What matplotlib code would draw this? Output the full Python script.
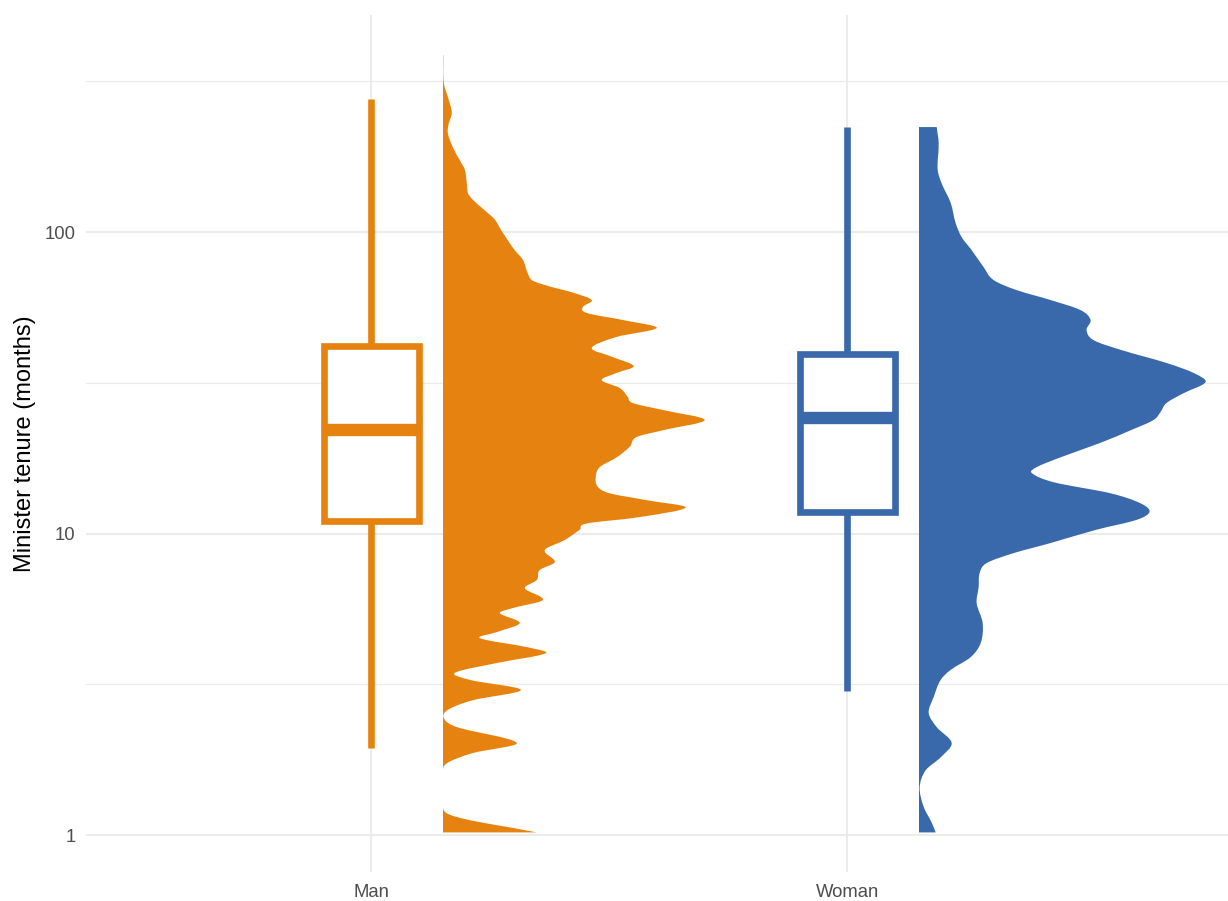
import numpy as np
import matplotlib
matplotlib.use("Agg")
import matplotlib.pyplot as plt
from matplotlib.path import Path
from matplotlib.patches import PathPatch, Rectangle
from matplotlib.ticker import FixedLocator, NullFormatter

plt.rcParams["font.family"] = ["Liberation Sans", "DejaVu Sans"]

# ---- data -------------------------------------------------------------
groups = ["Man", "Woman"]
group_colors = ["#E68310", "#3A69AB"]

# box-plot summaries (months)
whisker_low = [1.95, 3.0]
q1 = [11.0, 11.8]
median = [22.0, 24.2]
q3 = [42.0, 39.4]
whisker_high = [276.0, 223.0]

# density profiles: tenure (months) and density height
man_months = [1.02, 1.06, 1.12, 1.18, 1.28, 1.61, 1.73, 1.87, 2.02, 2.28,
              2.44, 2.60, 2.80, 3.03, 3.27, 3.45, 3.72, 4.01, 4.20, 4.50,
              4.71, 5.05, 5.45, 5.66, 6.02, 6.59, 7.01, 7.57, 8.04, 8.81,
              9.52, 10.3, 10.8, 11.3, 12.2, 12.9, 13.6, 14.3, 15.4, 16.6,
              17.9, 19.4, 20.9, 22.0, 23.8, 25.7, 27.1, 28.4, 30.4, 32.3,
              34.1, 35.9, 38.5, 41.2, 44.9, 48.1, 51.1, 53.9, 56.4, 59.5,
              63.0, 66.0, 69.0, 73.0, 81.0, 87.0, 94.0, 102, 110, 118,
              128, 135, 145, 161, 173, 191, 213, 230, 248, 274, 312, 386]
man_density = [0.94, 0.67, 0.27, 0.04, 0.00, 0.00, 0.04, 0.30, 0.74, 0.14,
               0.01, 0.05, 0.30, 0.78, 0.27, 0.12, 0.54, 1.03, 0.84, 0.37,
               0.54, 0.77, 0.57, 0.70, 1.00, 0.82, 0.94, 0.97, 1.12, 1.02,
               1.22, 1.37, 1.44, 1.94, 2.43, 2.04, 1.67, 1.55, 1.53, 1.57,
               1.74, 1.87, 1.94, 2.20, 2.62, 2.20, 1.90, 1.85, 1.77, 1.59,
               1.74, 1.91, 1.70, 1.49, 1.74, 2.14, 1.80, 1.44, 1.40, 1.49,
               1.30, 1.07, 0.90, 0.85, 0.80, 0.72, 0.65, 0.58, 0.52, 0.42,
               0.30, 0.25, 0.24, 0.22, 0.17, 0.10, 0.05, 0.06, 0.09, 0.06,
               0.01, 0.005]

woman_months = [1.02, 1.10, 1.24, 1.44, 1.64, 1.81, 2.02, 2.28, 2.54, 2.87,
                3.27, 3.53, 3.89, 4.33, 5.05, 5.88, 6.65, 7.39, 7.98, 8.61,
                9.30, 10.3, 11.1, 11.8, 12.6, 13.6, 14.8, 15.9, 16.6, 17.9,
                20.0, 22.0, 23.8, 25.3, 27.1, 29.2, 31.8, 34.1, 36.8, 40.6,
                43.8, 47.3, 51.1, 55.1, 59.5, 64.2, 69.3, 76.5, 87.1, 96.2,
                107, 125, 145, 161, 197, 223]
woman_density = [0.17, 0.13, 0.05, 0.01, 0.07, 0.22, 0.33, 0.18, 0.10, 0.15,
                 0.22, 0.32, 0.52, 0.62, 0.64, 0.58, 0.60, 0.61, 0.68, 0.95,
                 1.32, 1.78, 2.18, 2.31, 2.22, 1.92, 1.35, 1.13, 1.18, 1.42,
                 1.82, 2.12, 2.35, 2.42, 2.48, 2.65, 2.87, 2.75, 2.48, 2.03,
                 1.75, 1.68, 1.72, 1.62, 1.32, 0.98, 0.75, 0.65, 0.53, 0.43,
                 0.37, 0.32, 0.23, 0.19, 0.20, 0.18]

densities = [(man_months, man_density), (woman_months, woman_density)]

y_ticks = [1, 10, 100]
y_tick_labels = ["1", "10", "100"]

# ---- styling ------------------------------------------------------------
BOX_WIDTH = 0.2
DENS_OFFSET = 0.15
DENS_SCALE = 0.21
LINE_W = 4.8
MEDIAN_W = 8.9
GRID = "#EBEBEB"
YLIM = (0.754, 525)
XLIM = (0.4, 2.8)


def half_violin_path(x0, months, dens, scale):
    """Smooth one-sided density outline (cubic Hermite in log10 space)."""
    t = np.log10(np.asarray(months, float))
    x = x0 + np.asarray(dens, float) * scale
    n = len(t)
    m = np.empty(n)
    m[0] = (x[1] - x[0]) / (t[1] - t[0])
    m[-1] = (x[-1] - x[-2]) / (t[-1] - t[-2])
    m[1:-1] = (x[2:] - x[:-2]) / (t[2:] - t[:-2])
    verts = [(x0, t[0]), (x[0], t[0])]
    codes = [Path.MOVETO, Path.LINETO]
    for i in range(n - 1):
        h = t[i + 1] - t[i]
        verts += [(x[i] + m[i] * h / 3, t[i] + h / 3),
                  (x[i + 1] - m[i + 1] * h / 3, t[i + 1] - h / 3),
                  (x[i + 1], t[i + 1])]
        codes += [Path.CURVE4] * 3
    verts += [(x0, t[-1]), (x0, t[0])]
    codes += [Path.LINETO, Path.CLOSEPOLY]
    v = np.array(verts)
    v[:, 1] = 10 ** v[:, 1]
    return Path(v, codes)


fig = plt.figure(figsize=(12.28, 9.01), dpi=100)
ax = fig.add_axes([0.0700, 0.0322, 0.9300, 0.9512])
ax.set_yscale("log")
ax.set_xlim(*XLIM)
ax.set_ylim(*YLIM)

for i, (name, col) in enumerate(zip(groups, group_colors)):
    pos = i + 1
    # density
    months, dens = densities[i]
    x0 = pos + DENS_OFFSET
    patch = PathPatch(half_violin_path(x0, months, dens, DENS_SCALE),
                      facecolor=col, edgecolor="none", zorder=2)
    ax.add_patch(patch)
    clip = Rectangle((x0, YLIM[0]), 1.5, YLIM[1] - YLIM[0],
                     transform=ax.transData)
    patch.set_clip_path(clip)

    # whiskers
    ax.vlines(pos, q3[i], whisker_high[i], colors=col, lw=LINE_W,
              capstyle="butt", zorder=3)
    ax.vlines(pos, whisker_low[i], q1[i], colors=col, lw=LINE_W,
              capstyle="butt", zorder=3)
    # box
    box = Rectangle((pos - BOX_WIDTH / 2, q1[i]), BOX_WIDTH, q3[i] - q1[i],
                    facecolor="white", edgecolor=col, lw=LINE_W,
                    joinstyle="miter", zorder=4)
    ax.add_patch(box)
    ax.hlines(median[i], pos - BOX_WIDTH / 2, pos + BOX_WIDTH / 2,
              colors=col, lw=MEDIAN_W, capstyle="butt", zorder=5)

# axes
ax.set_xticks([1, 2])
ax.set_xticklabels(groups)
ax.yaxis.set_major_locator(FixedLocator(y_ticks))
ax.set_yticklabels(y_tick_labels)
ax.yaxis.set_minor_locator(FixedLocator([10 ** 0.5, 10 ** 1.5, 10 ** 2.5]))
ax.yaxis.set_minor_formatter(NullFormatter())

ax.grid(which="major", axis="both", color=GRID, lw=1.5)
ax.grid(which="minor", axis="y", color=GRID, lw=0.8)
ax.set_axisbelow(True)
for s in ax.spines.values():
    s.set_visible(False)

ax.tick_params(axis="both", which="both", length=0, labelsize=13.3,
               labelcolor="#4D4D4D")
ax.tick_params(axis="y", pad=7.5)
ax.tick_params(axis="x", pad=9.0)

ax.set_ylabel("Minister tenure (months)", fontsize=17, color="black")
ax.yaxis.label.set_va("center")
ax.yaxis.set_label_coords(-0.053, 0.5)

fig.savefig("out.png", dpi=100, facecolor="white")
